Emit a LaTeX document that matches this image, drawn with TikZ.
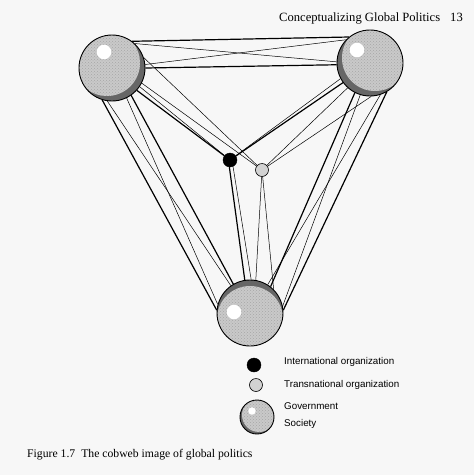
\documentclass[tikz,border=0pt]{standalone}
\usepackage{fontspec}
\setmainfont{Liberation Serif}
\newfontfamily\legendfont{Liberation Sans}
\usetikzlibrary{patterns}

\begin{document}
\begin{tikzpicture}
        [x=1pt, y=-1pt,
         sphere/.style n args={3}{draw, shape=circle, line width=0.9pt, inner sep=0, minimum size=#1, fill=gray!80!black,
           path picture={
             \fill[gray!42] ([shift={#2}]path picture bounding box.center) circle (#1/2);
             \fill[pattern=crosshatch dots, pattern color=gray!70] ([shift={#2}]path picture bounding box.center) circle (#1/2);
             \fill[white] ([shift={#3}]path picture bounding box.center) circle (#1*0.11);
           }},
         intorg/.style={draw, shape=circle, fill=black, inner sep=0, minimum size=14pt},
         transorg/.style={draw, shape=circle, fill=gray!35, inner sep=0, minimum size=13pt, line width=0.6pt},
         strongtie/.style={line width=1.2pt},
         weaktie/.style={line width=0.5pt},
         legendtext/.style={anchor=base west, inner sep=0, font=\legendfont\fontsize{9.8}{11}\selectfont}]

        \fill[gray!6] (0,0) rectangle (474,475);
        \useasboundingbox (0,0) rectangle (474,475);

        \node[anchor=base east, inner sep=0, font=\fontsize{12.6}{15}\selectfont] (head) at (463,21) {Conceptualizing Global Politics\hspace{10pt}13};

        \node[sphere={66pt}{(-5pt,5pt)}{(-8pt,16pt)}] (s1) at (112,68) {};
        \node[sphere={66pt}{(5pt,5pt)}{(-13pt,13pt)}] (s2) at (370,63) {};
        \node[sphere={66pt}{(0pt,-6pt)}{(-16pt,1pt)}] (s3) at (250,313) {};
        \node[intorg] (io) at (230,160) {};
        \node[transorg] (tno) at (262,170) {};

        \draw[strongtie] (s1.53) -- (s2.129);
        \draw[strongtie] (s1.0) -- (s2.183);
        \draw[weaktie] (s1.47) -- (s2.178);
        \draw[weaktie] (s1.6) -- (s2.136);
        \draw[strongtie] (s1.253) -- (s3.175);
        \draw[strongtie] (s1.305) -- (s3.120);
        \draw[weaktie] (s1.262) -- (s3.125);
        \draw[weaktie] (s1.296) -- (s3.165);
        \draw[strongtie] (s2.300) -- (s3.5);
        \draw[strongtie] (s2.243) -- (s3.52);
        \draw[weaktie] (s2.253) -- (s3.12);
        \draw[weaktie] (s2.288) -- (s3.58);
        \draw[strongtie] (s1.318) -- (io);
        \draw[weaktie] (s1.326) -- (io);
        \draw[weaktie] (s1.333) -- (tno);
        \draw[weaktie] (s1.18) -- (tno);
        \draw[strongtie] (s2.216) -- (io);
        \draw[weaktie] (s2.208) -- (io);
        \draw[weaktie] (s2.228) -- (tno);
        \draw[weaktie] (s2.272) -- (tno);
        \draw[strongtie] (io.265) -- (s3.99);
        \draw[weaktie] (io.295) -- (s3.88);
        \draw[weaktie] (tno) -- (s3.80);
        \draw[weaktie] (tno) -- (s3.45);

        \node[intorg] (kio) at (254,365) {};
        \node[transorg] (kto) at (256,385) {};
        \node[sphere={34pt}{(2pt,2pt)}{(-5pt,6pt)}] (ksp) at (257,417) {};
        \node[legendtext] (tio) at (284,364) {International organization};
        \node[legendtext] (tto) at (284,387) {Transnational organization};
        \node[legendtext] (tgo) at (284,409) {Government};
        \node[legendtext] (tso) at (284,426) {Society};

        \node[anchor=base west, inner sep=0, font=\fontsize{11.7}{14}\selectfont] (cap) at (27,457) {Figure 1.7\hspace{6pt}The cobweb image of global politics};

      \end{tikzpicture}
\end{document}
